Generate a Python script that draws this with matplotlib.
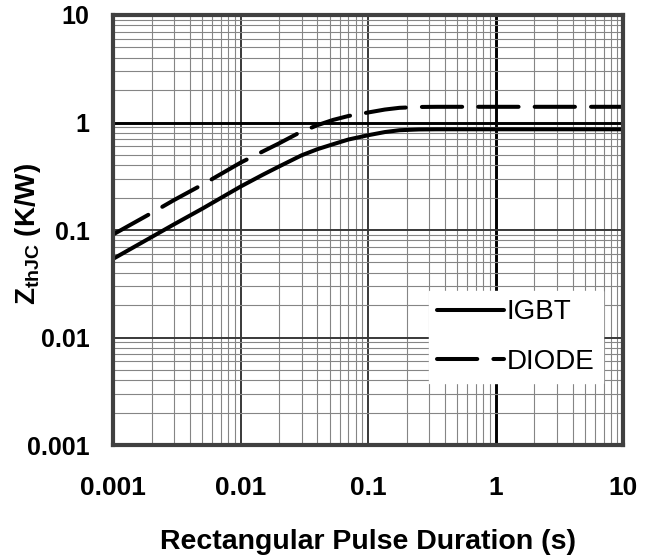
import matplotlib
matplotlib.use('Agg')
import matplotlib.pyplot as plt
import numpy as np

matplotlib.rcParams['font.family'] = ['Liberation Sans', 'DejaVu Sans']
matplotlib.rcParams['mathtext.fontset'] = 'custom'
matplotlib.rcParams['mathtext.rm'] = 'Liberation Sans'
matplotlib.rcParams['mathtext.bf'] = 'Liberation Sans:bold'

# pulse duration (s) and thermal impedance (K/W)
t_igbt = [0.001, 0.002, 0.003, 0.005, 0.007, 0.01, 0.015, 0.02, 0.03, 0.04, 0.053,
          0.07, 0.1, 0.135, 0.176, 0.25, 0.35, 1, 10]
z_igbt = [0.054, 0.086, 0.113, 0.158, 0.199, 0.254, 0.328, 0.39, 0.495, 0.565, 0.628,
          0.695, 0.762, 0.815, 0.848, 0.862, 0.865, 0.865, 0.865]

t_diode = [0.001, 0.002, 0.003, 0.005, 0.007, 0.01, 0.015, 0.02, 0.029, 0.04, 0.053,
           0.07, 0.1, 0.135, 0.176, 0.25, 0.35, 1, 10]
z_diode = [0.091, 0.144, 0.19, 0.264, 0.332, 0.424, 0.54, 0.64, 0.807, 0.945, 1.057,
           1.15, 1.24, 1.32, 1.37, 1.395, 1.40, 1.40, 1.40]

ticks = [0.001, 0.01, 0.1, 1, 10]
tick_labels = ['0.001', '0.01', '0.1', '1', '10']

fig = plt.figure(figsize=(6.54, 5.55), dpi=100)
ax = fig.add_axes([0.173, 0.198, 0.780, 0.775])

ax.plot(t_igbt, z_igbt, color='black', linewidth=2.9, label='IGBT', solid_capstyle='round')
ax.plot(t_diode, z_diode, color='black', linewidth=2.9, label='DIODE',
        dashes=(10, 4), dash_capstyle='round')

ax.set_xscale('log')
ax.set_yscale('log')
ax.set_xlim(0.001, 10)
ax.set_ylim(0.001, 10)
ax.set_xticks(ticks)
ax.set_xticklabels(tick_labels)
ax.set_yticks(ticks)
ax.set_yticklabels(tick_labels)
ax.tick_params(which='both', length=0)
ax.tick_params(axis='x', labelsize=19, pad=22)
ax.tick_params(axis='y', labelsize=18, pad=17)
for lab in ax.get_xticklabels() + ax.get_yticklabels():
    lab.set_fontweight('bold')

ax.grid(which='minor', color='#858585', linewidth=0.8)
ax.grid(which='major', color='#383838', linewidth=1.4)
for tk in ax.xaxis.get_major_ticks() + ax.yaxis.get_major_ticks():
    if abs(tk.get_loc() - 1) < 1e-9:
        tk.gridline.set_color('black')
        tk.gridline.set_linewidth(2.1)
ax.set_axisbelow(True)

for sp in ax.spines.values():
    sp.set_color('#404040')
    sp.set_linewidth(3)

ax.set_xlabel('Rectangular Pulse Duration (s)', fontsize=20.5, fontweight='bold', labelpad=21)
ax.set_ylabel(r'$\mathbf{Z_{thJC}}$ (K/W)', fontsize=20, fontweight='bold')
ax.yaxis.set_label_coords(-0.137, 0.49)

leg = ax.legend(loc='lower right', bbox_to_anchor=(0.96, 0.144), borderaxespad=0,
                fontsize=20, frameon=True, fancybox=False, handlelength=2.4,
                handletextpad=0.1, labelspacing=0.85, borderpad=0.3)
leg.get_frame().set_edgecolor('white')
leg.get_frame().set_facecolor('white')
leg.get_frame().set_alpha(1)

fig.savefig('out.png', dpi=100)
